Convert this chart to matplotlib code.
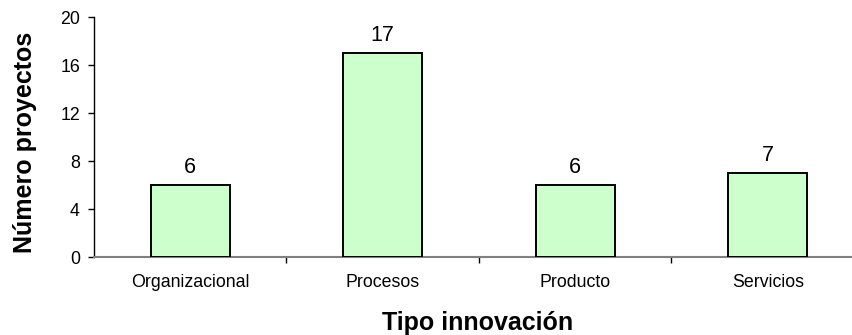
import matplotlib
matplotlib.use("Agg")
import matplotlib.pyplot as plt

categories = ["Organizacional", "Procesos", "Producto", "Servicios"]
values = [6, 17, 6, 7]
yticks = [0, 4, 8, 12, 16, 20]

plt.rcParams['font.family'] = ['Liberation Sans', 'DejaVu Sans']

W, H = 853, 335
fig = plt.figure(figsize=(W / 100, H / 100), dpi=100)
left, right = 94, 864
bottom, top = 257, 17
ax = fig.add_axes([left / W, (H - bottom) / H, (right - left) / W, (bottom - top) / H])

x = list(range(len(categories)))
ax.bar(x, values, width=0.41, color="#CCFFCC", edgecolor="black", linewidth=1.4, zorder=3)
for xi, v in zip(x, values):
    ax.annotate(str(v), (xi, v), xytext=(0, 8.6), textcoords="offset points",
                ha="center", va="baseline", fontsize=15.5, color="black")

ax.set_xlim(-0.5, len(categories) - 0.5)
ax.set_ylim(0, 20)
ax.set_yticks(yticks)
ax.set_xticks(x)
ax.set_xticklabels(categories, fontsize=12.8)
ax.tick_params(axis="y", labelsize=12.8, length=4.3, width=1, direction="out", pad=5.8)
ax.tick_params(axis="x", which="major", length=0, pad=12.5)
ax.set_xticks([i + 0.5 for i in x[:-1]], minor=True)
ax.tick_params(axis="x", which="minor", length=4.3, width=1, direction="out", color="black")

for s in ["top", "right"]:
    ax.spines[s].set_visible(False)
ax.spines["bottom"].set_color("#808080")
ax.spines["bottom"].set_linewidth(1.5)
ax.spines["left"].set_color("black")
ax.spines["left"].set_linewidth(1)

fig.text(25 / W, (H - 142) / H, "Número proyectos", rotation=90, ha="center", va="center",
         fontsize=18, fontweight="bold")
fig.text(478 / W, (H - 330) / H, "Tipo innovación", ha="center", va="baseline",
         fontsize=18, fontweight="bold")

fig.savefig("out.png", dpi=100)
